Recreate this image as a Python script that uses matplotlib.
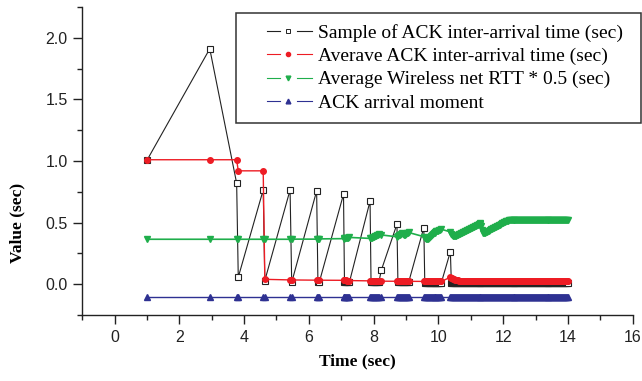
#ACK inter-arrival time vs wireless RTT, re-drawn with matplotlib
import matplotlib
matplotlib.use('Agg')
import matplotlib.pyplot as plt
from matplotlib.lines import Line2D
from matplotlib.legend_handler import HandlerBase
from matplotlib.ticker import MultipleLocator, FormatStrFormatter

#ACK arrival moments (sec), grouped by burst
ack_t = [
    1.01,
    2.94,
    3.77, 3.82,
    4.59, 4.64,
    5.42, 5.47,
    6.24, 6.28, 6.32,
    7.07, 7.10, 7.13, 7.16, 7.19, 7.22, 7.25,
    7.89, 7.92, 7.95, 7.98, 8.01, 8.04, 8.07, 8.10, 8.13, 8.16, 8.24,
    8.72, 8.75, 8.78, 8.81, 8.84, 8.87, 8.90, 8.93, 8.96, 8.99, 9.02, 9.05, 9.08,
    9.55, 9.58, 9.61, 9.64, 9.67, 9.70, 9.73, 9.76, 9.79, 9.82,
    9.85, 9.88, 9.91, 9.94, 9.97, 10.00, 10.03, 10.06, 10.09,
    10.37, 10.40, 10.43, 10.46, 10.49, 10.52, 10.55, 10.58, 10.61, 10.64,
    10.67, 10.70, 10.73, 10.76, 10.79, 10.82, 10.85, 10.88, 10.91, 10.94,
    10.97, 11.00, 11.03, 11.06, 11.09, 11.12, 11.15, 11.18, 11.21, 11.24,
    11.27, 11.30, 11.33, 11.36, 11.39, 11.42, 11.45, 11.48, 11.51, 11.54,
    11.57, 11.60, 11.63, 11.66, 11.69, 11.72, 11.75, 11.78, 11.81, 11.84,
    11.87, 11.90, 11.93, 11.96, 11.99, 12.02, 12.05, 12.08, 12.11, 12.14,
    12.17, 12.20, 12.23, 12.26, 12.29, 12.32, 12.35, 12.38, 12.41, 12.44,
    12.47, 12.50, 12.53, 12.56, 12.59, 12.62, 12.65, 12.68, 12.71, 12.74,
    12.77, 12.80, 12.83, 12.86, 12.89, 12.92, 12.95, 12.98, 13.01, 13.04,
    13.07, 13.10, 13.13, 13.16, 13.19, 13.22, 13.25, 13.28, 13.31, 13.34,
    13.37, 13.40, 13.43, 13.46, 13.49, 13.52, 13.55, 13.58, 13.61, 13.64,
    13.67, 13.70, 13.73, 13.76, 13.79, 13.82, 13.85, 13.88, 13.91, 13.94,
    13.97, 14.00,
]

#Sample of ACK inter-arrival time (sec)
sample_y = [
    1.01,
    1.91,
    0.82, 0.057,
    0.765, 0.030,
    0.765, 0.015,
    0.757, 0.015, 0.015,
    0.730, 0.015, 0.015, 0.015, 0.015, 0.015, 0.015,
    0.675, 0.015, 0.015, 0.015, 0.015, 0.015, 0.015, 0.015, 0.015, 0.015, 0.116,
    0.487, 0.015, 0.015, 0.015, 0.015, 0.015, 0.015, 0.015, 0.015, 0.015, 0.015, 0.015, 0.015,
    0.460, 0.012, 0.012, 0.012, 0.012, 0.012, 0.012, 0.012, 0.012, 0.012,
    0.012, 0.012, 0.012, 0.012, 0.012, 0.012, 0.012, 0.012, 0.012,
    0.265, 0.010, 0.010, 0.010, 0.010, 0.010, 0.010, 0.010, 0.010, 0.010,
    0.010, 0.010, 0.010, 0.010, 0.010, 0.010, 0.010, 0.010, 0.010, 0.010,
    0.010, 0.010, 0.010, 0.010, 0.010, 0.010, 0.010, 0.010, 0.010, 0.010,
    0.010, 0.010, 0.010, 0.010, 0.010, 0.010, 0.010, 0.010, 0.010, 0.010,
    0.010, 0.010, 0.010, 0.010, 0.010, 0.010, 0.010, 0.010, 0.010, 0.010,
    0.010, 0.010, 0.010, 0.010, 0.010, 0.010, 0.010, 0.010, 0.010, 0.010,
    0.010, 0.010, 0.010, 0.010, 0.010, 0.010, 0.010, 0.010, 0.010, 0.010,
    0.010, 0.010, 0.010, 0.010, 0.010, 0.010, 0.010, 0.010, 0.010, 0.010,
    0.010, 0.010, 0.010, 0.010, 0.010, 0.010, 0.010, 0.010, 0.010, 0.010,
    0.010, 0.010, 0.010, 0.010, 0.010, 0.010, 0.010, 0.010, 0.010, 0.010,
    0.010, 0.010, 0.010, 0.010, 0.010, 0.010, 0.010, 0.010, 0.010, 0.010,
    0.010, 0.010, 0.010, 0.010, 0.010, 0.010, 0.010, 0.010, 0.010, 0.010,
    0.010, 0.010,
]

#Averave ACK inter-arrival time (sec)
avg_y = [
    1.01,
    1.01,
    1.01, 0.92,
    0.92, 0.040,
    0.036, 0.035,
    0.034, 0.034, 0.033,
    0.032, 0.031, 0.031, 0.031, 0.030, 0.030, 0.030,
    0.028, 0.028, 0.027, 0.027, 0.027, 0.026, 0.026, 0.026, 0.025, 0.025, 0.025,
    0.024, 0.024, 0.024, 0.024, 0.024, 0.024, 0.024, 0.024, 0.024, 0.024, 0.024, 0.024, 0.024,
    0.023, 0.023, 0.023, 0.023, 0.023, 0.023, 0.023, 0.023, 0.023, 0.023,
    0.023, 0.023, 0.023, 0.023, 0.023, 0.023, 0.023, 0.023, 0.023,
    0.057, 0.052, 0.047, 0.043, 0.040, 0.037, 0.035, 0.033, 0.031, 0.030,
    0.029, 0.028, 0.028, 0.027, 0.027, 0.027, 0.027, 0.027, 0.027, 0.027,
    0.027, 0.027, 0.027, 0.027, 0.027, 0.027, 0.027, 0.027, 0.027, 0.027,
    0.026, 0.026, 0.026, 0.026, 0.026, 0.026, 0.026, 0.026, 0.026, 0.026,
    0.026, 0.026, 0.026, 0.026, 0.026, 0.026, 0.026, 0.026, 0.026, 0.026,
    0.026, 0.026, 0.026, 0.026, 0.026, 0.026, 0.026, 0.026, 0.026, 0.026,
    0.026, 0.026, 0.026, 0.026, 0.026, 0.026, 0.026, 0.026, 0.026, 0.026,
    0.025, 0.025, 0.025, 0.025, 0.025, 0.025, 0.025, 0.025, 0.025, 0.025,
    0.025, 0.025, 0.025, 0.025, 0.025, 0.025, 0.025, 0.025, 0.025, 0.025,
    0.025, 0.025, 0.025, 0.025, 0.025, 0.025, 0.025, 0.025, 0.025, 0.025,
    0.025, 0.025, 0.025, 0.025, 0.025, 0.025, 0.025, 0.025, 0.025, 0.025,
    0.025, 0.025, 0.025, 0.025, 0.025, 0.025, 0.025, 0.025, 0.025, 0.025,
    0.025, 0.025,
]

#Average Wireless net RTT * 0.5 (sec)
rtt_y = [
    0.365,
    0.365,
    0.365, 0.365,
    0.365, 0.365,
    0.365, 0.366,
    0.366, 0.367, 0.368,
    0.370, 0.372, 0.374, 0.376, 0.377, 0.379, 0.380,
    0.372, 0.375, 0.378, 0.381, 0.384, 0.388, 0.392, 0.396, 0.400, 0.404, 0.400,
    0.385, 0.390, 0.396, 0.402, 0.408, 0.414, 0.404, 0.398, 0.402, 0.407, 0.412, 0.416, 0.420,
    0.386, 0.376, 0.368, 0.365, 0.370, 0.378, 0.386, 0.393, 0.400, 0.406,
    0.412, 0.418, 0.423, 0.428, 0.432, 0.436, 0.440, 0.443, 0.446,
    0.425, 0.410, 0.398, 0.389, 0.388, 0.391, 0.395, 0.399, 0.403, 0.407,
    0.411, 0.415, 0.419, 0.423, 0.427, 0.430, 0.434, 0.438, 0.442, 0.446,
    0.450, 0.454, 0.458, 0.462, 0.466, 0.470, 0.473, 0.477, 0.481, 0.485,
    0.489, 0.494, 0.470, 0.440, 0.418, 0.414, 0.418, 0.423, 0.427, 0.432,
    0.436, 0.440, 0.445, 0.449, 0.454, 0.458, 0.462, 0.467, 0.471, 0.476,
    0.480, 0.484, 0.489, 0.493, 0.498, 0.502, 0.506, 0.510, 0.514, 0.517,
    0.519, 0.520, 0.520, 0.520, 0.520, 0.520, 0.520, 0.520, 0.520, 0.520,
    0.520, 0.520, 0.520, 0.520, 0.520, 0.520, 0.520, 0.520, 0.520, 0.520,
    0.520, 0.520, 0.520, 0.520, 0.520, 0.520, 0.520, 0.520, 0.520, 0.520,
    0.520, 0.520, 0.520, 0.520, 0.520, 0.520, 0.520, 0.520, 0.520, 0.520,
    0.520, 0.520, 0.520, 0.520, 0.520, 0.520, 0.520, 0.520, 0.520, 0.520,
    0.520, 0.520, 0.520, 0.520, 0.520, 0.520, 0.520, 0.520, 0.520, 0.520,
    0.520, 0.520,
]

#ACK arrival moments are drawn as a row at a fixed level
ack_level = -0.1
ack_y = [ack_level] * len(ack_t)

labels = ['Sample of ACK inter-arrival time (sec)',
          'Averave ACK inter-arrival time (sec)',
          'Average Wireless net RTT * 0.5 (sec)',
          'ACK arrival moment']


#Legend entry drawn as  ---marker---  with gaps around the marker
class GapLineHandler(HandlerBase):
    def create_artists(self, legend, orig_handle, xdescent, ydescent,
                       width, height, fontsize, trans):
        y = height / 2 - ydescent
        x0 = -xdescent
        c = orig_handle.get_color()
        lw = orig_handle.get_linewidth()
        l1 = Line2D([x0 + 0.31 * width, x0 + 0.51 * width], [y, y], color=c, lw=lw)
        l2 = Line2D([x0 + 0.77 * width, x0 + width], [y, y], color=c, lw=lw)
        m = Line2D([x0 + 0.64 * width], [y], ls='none',
                   marker=orig_handle.get_marker(),
                   ms=orig_handle.get_markersize(),
                   mfc=orig_handle.get_markerfacecolor(),
                   mec=orig_handle.get_markeredgecolor(),
                   mew=orig_handle.get_markeredgewidth())
        for a in (l1, l2, m):
            a.set_transform(trans)
        return [l1, l2, m]


black = '#222222'
red = '#ed1c24'
green = '#1fae4b'
blue = '#2e3192'

fig = plt.figure(figsize=(6.42, 3.81), dpi=100)
ax = fig.add_axes([0.128, 0.173, 0.8575, 0.809])

ax.plot(ack_t, sample_y, color=black, lw=0.8, marker='s', ms=4,
        mfc='white', mec=black, mew=0.8, zorder=2)
ax.plot(ack_t, avg_y, color=red, lw=1.0, marker='o', ms=4.0,
        mfc=red, mec=red, zorder=3)
ax.plot(ack_t, rtt_y, color=green, lw=1.2, marker='v', ms=4.6,
        mfc=green, mec=green, zorder=4)
ax.plot(ack_t, ack_y, color=blue, lw=1.0, marker='^', ms=3.8,
        mfc=blue, mec=blue, zorder=5)

ax.set_xlim(-1, 16)
ax.set_ylim(-0.25, 2.25)
ax.xaxis.set_major_locator(MultipleLocator(2))
ax.xaxis.set_minor_locator(MultipleLocator(1))
ax.yaxis.set_major_locator(MultipleLocator(0.5))
ax.yaxis.set_minor_locator(MultipleLocator(0.25))
ax.yaxis.set_major_formatter(FormatStrFormatter('%.1f'))

for s in ['top', 'right']:
    ax.spines[s].set_visible(False)
for s in ['left', 'bottom']:
    ax.spines[s].set_linewidth(1.0)
    ax.spines[s].set_color('#222222')

ax.tick_params(which='major', direction='out', length=6.5, width=1.0, colors='#222222')
ax.tick_params(which='minor', direction='out', length=3.5, width=1.0, colors='#222222')
ax.tick_params(axis='x', which='major', pad=4)
ax.tick_params(axis='y', which='major', pad=4)
for lab in ax.get_xticklabels() + ax.get_yticklabels():
    lab.set_fontfamily('Liberation Sans')
    lab.set_fontsize(11.5)
    lab.set_color('#222222')

ax.set_xlabel('Time (sec)', fontfamily='Liberation Serif', fontweight='bold', fontsize=12.5)
ax.set_ylabel('Value (sec)', fontfamily='Liberation Serif', fontweight='bold', fontsize=12.5)
ax.xaxis.set_label_coords(0.5, -0.125)
ax.yaxis.set_label_coords(-0.104, 0.30)

proxies = [
    Line2D([], [], color=black, lw=0.8, marker='s', ms=3.2, mfc='white', mec=black, mew=0.7),
    Line2D([], [], color=red, lw=0.8, marker='o', ms=3.0, mfc=red, mec=red),
    Line2D([], [], color=green, lw=0.8, marker='v', ms=3.4, mfc=green, mec=green),
    Line2D([], [], color=blue, lw=0.8, marker='^', ms=3.4, mfc=blue, mec=blue),
]
#legend box from x=236px to the right edge of the picture
leg_box = (236 / 642, 0.0, (641 - 236) / 642, 1 - 13 / 381)
leg = ax.legend(proxies, labels, loc='upper left', mode='expand',
                bbox_to_anchor=leg_box, bbox_transform=fig.transFigure,
                borderaxespad=0, fancybox=False, framealpha=1, edgecolor='#333333',
                prop={'family': 'Liberation Serif', 'size': 14},
                handlelength=3.33, handletextpad=0.34, labelspacing=0.29, borderpad=0.56,
                handler_map={Line2D: GapLineHandler()})
leg.get_frame().set_linewidth(1.1)

fig.savefig('out.png', dpi=100)
